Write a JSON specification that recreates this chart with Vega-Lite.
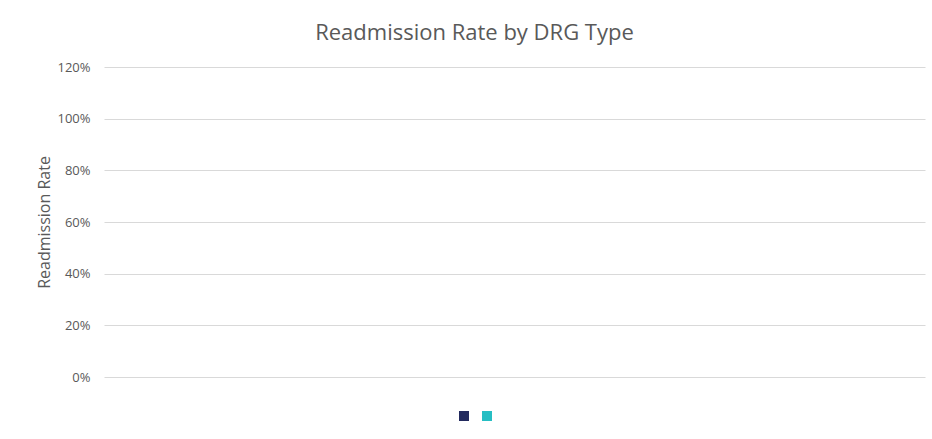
{
  "$schema": "https://vega.github.io/schema/vega-lite/v6.json",
  "autosize": "none",
  "width": 821,
  "height": 310,
  "padding": {"left": 104, "top": 67, "right": 7, "bottom": 62},
  "background": "white",
  "title": {
    "text": "Readmission Rate by DRG Type",
    "font": "Open Sans",
    "fontSize": 22,
    "fontWeight": "normal",
    "color": "#595959",
    "anchor": "middle",
    "frame": "group",
    "dx": -40,
    "offset": 16
  },
  "data": {
    "values": [
      {"drg": "DRG", "series": "Series1", "rate": null},
      {"drg": "DRG", "series": "Series2", "rate": null}
    ]
  },
  "mark": {"type": "bar"},
  "encoding": {
    "x": {"field": "drg", "type": "nominal", "axis": null},
    "xOffset": {"field": "series", "type": "nominal"},
    "y": {
      "field": "rate",
      "type": "quantitative",
      "scale": {"domain": [0, 1.2], "nice": false, "zero": true},
      "axis": {
        "title": "Readmission Rate",
        "values": [0, 0.2, 0.4, 0.6, 0.8, 1.0, 1.2],
        "format": ".0%",
        "domain": false,
        "ticks": false,
        "grid": true,
        "gridColor": "#d9d9d9",
        "gridWidth": 1,
        "labelFont": "Open Sans",
        "labelFontSize": 13,
        "labelColor": "#595959",
        "labelPadding": 14,
        "titleFont": "Open Sans",
        "titleFontSize": 16,
        "titleFontWeight": "normal",
        "titleColor": "#595959",
        "titlePadding": 4
      }
    },
    "color": {
      "field": "series",
      "type": "nominal",
      "scale": {"domain": ["Series1", "Series2"], "range": ["#222a5e", "#26bec3"]},
      "legend": {
        "title": null,
        "orient": "none",
        "direction": "horizontal",
        "legendX": 355,
        "legendY": 344,
        "symbolType": "square",
        "symbolSize": 100,
        "symbolStrokeWidth": 0,
        "symbolOpacity": 1,
        "labelExpr": "''",
        "labelOffset": 0,
        "columnPadding": 13
      }
    }
  },
  "config": {"view": {"stroke": null}}
}
